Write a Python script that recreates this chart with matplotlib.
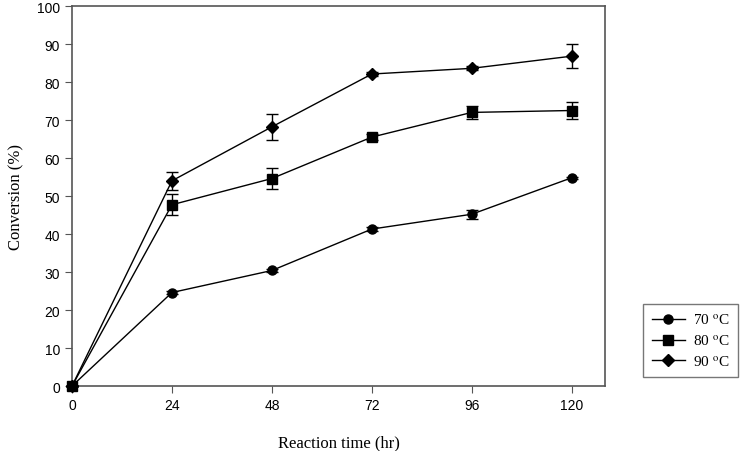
import matplotlib
matplotlib.use("Agg")
import matplotlib.pyplot as plt
from matplotlib.lines import Line2D

hours = [0, 24, 48, 72, 96, 120]
conv_70 = [0, 24.6, 30.4, 41.3, 45.2, 54.8]
err_70 = [0, 0.3, 0.3, 0.5, 1.2, 0.3]
conv_80 = [0, 47.7, 54.6, 65.5, 72.0, 72.5]
err_80 = [0, 2.8, 2.8, 0.8, 1.8, 2.3]
conv_90 = [0, 54.0, 68.2, 82.1, 83.6, 86.8]
err_90 = [0, 2.3, 3.5, 0.5, 0.5, 3.2]
labels = ["70 $^{\\mathrm{o}}$C", "80 $^{\\mathrm{o}}$C", "90 $^{\\mathrm{o}}$C"]

plt.rcParams["mathtext.fontset"] = "stix"

fig = plt.figure(figsize=(7.47, 4.52), dpi=100)
ax = fig.add_axes([0.0964, 0.1438, 0.7135, 0.8407])

series = [(conv_70, err_70, "o", 6.5), (conv_80, err_80, "s", 6.5), (conv_90, err_90, "D", 6.5)]
handles = []
for (vals, errs, mk, ms), lab in zip(series, labels):
    ax.errorbar(hours, vals, yerr=errs, marker=mk, markersize=ms, color="black",
                linewidth=1.0, elinewidth=1.0, capsize=4, capthick=1.0,
                clip_on=False, zorder=3)
    handles.append(Line2D([], [], color="black", marker=mk, markersize=ms, linewidth=1.0, label=lab))

ax.set_xlim(0, 128)
ax.set_ylim(0, 100)
ax.set_xticks(hours)
ax.set_yticks(range(0, 101, 10))
ax.tick_params(direction="out", length=5, labelsize=10, color="#555555")
ax.tick_params(top=False, right=False)
for lab in ax.get_xticklabels() + ax.get_yticklabels():
    lab.set_family("Liberation Sans")
for sp in ax.spines.values():
    sp.set_color("#555555")
    sp.set_linewidth(1.2)

ax.set_xlabel("Reaction time (hr)", family="Liberation Serif", fontsize=12, labelpad=16)
ax.set_ylabel("Conversion (%)", family="Liberation Serif", fontsize=12, labelpad=9)

leg = fig.legend(handles=handles, loc="upper left", bbox_to_anchor=(0.861, 0.325),
                 prop={"family": "Liberation Serif", "size": 11}, frameon=True, fancybox=False,
                 edgecolor="#555555", handlelength=2.2, borderpad=0.55, labelspacing=0.4,
                 handletextpad=0.5, borderaxespad=0)
leg.get_frame().set_linewidth(1.0)

fig.savefig("out.png", dpi=100)
